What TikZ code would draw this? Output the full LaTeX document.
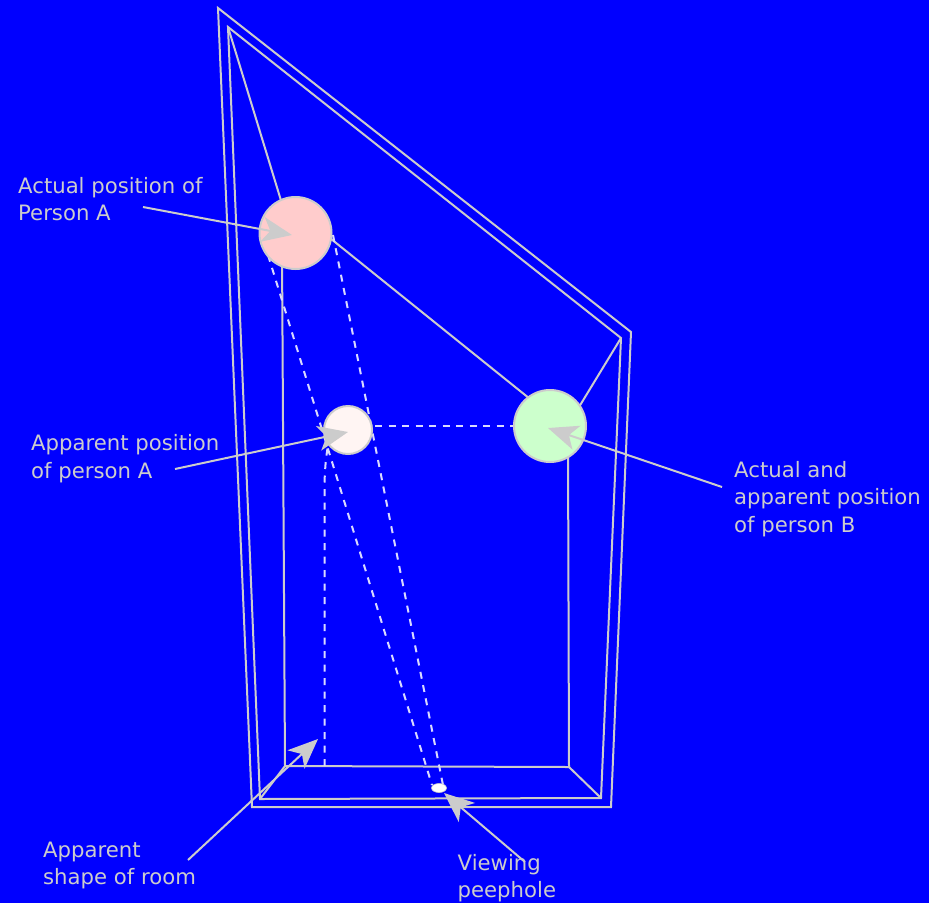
\documentclass[tikz,border=0pt]{standalone}
\usepackage{fontspec}
\setmainfont{DejaVu Sans}
\usetikzlibrary{arrows.meta,shapes.geometric}
\definecolor{ln}{HTML}{CCCCCC}
\definecolor{bg}{HTML}{0000FF}
\tikzset{
  wall/.style={draw=ln,line width=2pt,line join=miter},
  sight/.style={draw=white!85!bg,line width=2pt,dash pattern=on 7pt off 6.5pt},
  person/.style={circle,draw=ln,line width=2pt,inner sep=0pt,minimum size=#1},
  pointer/.style={draw=ln,line width=2pt,-{Stealth[length=30pt,width=25pt,inset=8pt,fill=ln]}},
  lbl/.style={text=ln,font=\fontsize{21.2}{27.5}\selectfont,align=left,inner sep=0pt,anchor=north west}
}
\begin{document}
\begin{tikzpicture}[x=1pt,y=-1pt]
\useasboundingbox[fill=bg] (0,0) rectangle (929,903);
% room corners
\coordinate (o1) at (218,8); \coordinate (o2) at (631,332); \coordinate (o3) at (611,807); \coordinate (o4) at (252,807);
\coordinate (i1) at (228,27); \coordinate (i2) at (621,338); \coordinate (i3) at (601,798); \coordinate (i4) at (260,799);
\coordinate (b1) at (285,766); \coordinate (b2) at (569,767);
\coordinate (ca) at (295.5,233); \coordinate (cb) at (550,426); \coordinate (cap) at (348,430);
\coordinate (t1) at (282,250); \coordinate (t2) at (568,440);
\coordinate (d1) at (268,255); \coordinate (d2) at (432,785);
\coordinate (d3) at (333,235); \coordinate (d4) at (444,790);
\coordinate (d5) at (324.5,766); \coordinate (d6) at (329,440);
\coordinate (u1) at (290,230); \coordinate (u2) at (310,222); \coordinate (u3) at (545,411); \coordinate (u4) at (565,430);
\draw[wall] (o1) -- (o2) -- (o3) -- (o4) -- cycle;
\draw[wall] (i1) -- (i2) -- (i3) -- (i4) -- cycle;
\draw[wall] (t1) -- (b1) -- (b2) -- (t2);
\draw[wall] (b1) -- (i4);
\draw[wall] (b2) -- (i3);
\draw[wall] (i1) -- (u1);
\draw[wall] (u2) -- (u3);
\draw[wall] (i2) -- (u4);
% sight lines
\draw[sight] (d1) -- (d2);
\draw[sight] (d3) -- (d4);
\draw[sight] (d5) -- (324.5,490) .. controls (324.5,470) and (326,455) .. (d6);
\draw[sight] (cap |- cb) -- (cb);
% people
\node[person=72pt,fill={rgb,255:red,255;green,204;blue,204}] (pa) at (ca) {};
\node[person=48pt,fill={rgb,255:red,255;green,245;blue,243}] (pap) at (cap) {};
\node[person=72pt,fill={rgb,255:red,204;green,255;blue,204}] (pb) at (cb) {};
\node[ellipse,fill=white,draw=ln,line width=0.6pt,minimum width=15pt,minimum height=9pt,inner sep=0pt] (hole) at (439,788) {};
% labels
\node[lbl] (la) at (18,177) {Actual position of\\Person A};
\node[lbl] (lap) at (31,434.5) {Apparent position\\of person A};
\node[lbl] (lb) at (734,461) {Actual and\\apparent position\\of person B};
\node[lbl] (lr) at (43,841.5) {Apparent\\shape of room};
\node[lbl] (lh) at (457.5,854) {Viewing\\peephole};
% pointers
\coordinate (sa) at (143,207); \coordinate (ea) at (292,235);
\coordinate (sap) at (175,469); \coordinate (eap) at (348,432);
\coordinate (sb) at (722,487); \coordinate (eb) at (548,428);
\coordinate (sr) at (188,860); \coordinate (er) at (318,739);
\coordinate (sh) at (525,862); \coordinate (eh) at (444,793);
\draw[pointer] (sa) -- (ea);
\draw[pointer] (sap) -- (eap);
\draw[pointer] (sb) -- (eb);
\draw[pointer] (sr) -- (er);
\draw[pointer] (sh) -- (eh);
\end{tikzpicture}
\end{document}
